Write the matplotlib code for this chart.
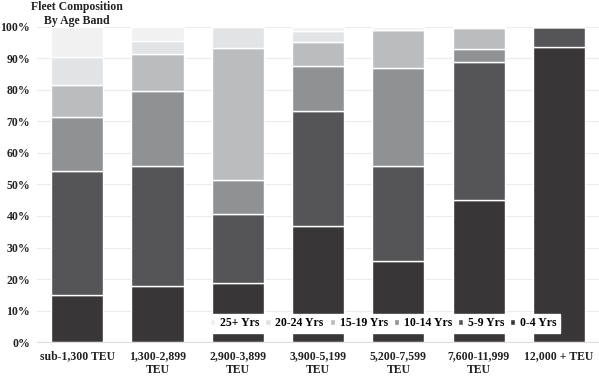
import numpy as np
import matplotlib.pyplot as plt
from matplotlib.ticker import FuncFormatter

plt.rcParams['font.family'] = ['Liberation Serif', 'DejaVu Serif']
plt.rcParams['font.weight'] = 'bold'

categories = ['sub-1,300 TEU', '1,300-2,899\nTEU', '2,900-3,899\nTEU', '3,900-5,199\nTEU',
              '5,200-7,599\nTEU', '7,600-11,999\nTEU', '12,000 + TEU']

# share of fleet (%) per age band
age_0_4 = [15.0, 17.8, 18.6, 36.8, 25.8, 45.1, 93.7]
age_5_9 = [39.2, 38.2, 22.1, 36.6, 29.9, 43.6, 6.3]
age_10_14 = [17.3, 23.6, 10.7, 14.2, 31.1, 4.2, 0.0]
age_15_19 = [9.9, 11.6, 41.8, 7.5, 12.0, 6.7, 0.0]
age_20_24 = [9.0, 4.4, 6.8, 3.5, 0.0, 0.4, 0.0]
age_25_plus = [9.6, 4.4, 0.0, 1.4, 1.2, 0.0, 0.0]

bands = ['0-4 Yrs', '5-9 Yrs', '10-14 Yrs', '15-19 Yrs', '20-24 Yrs', '25+ Yrs']
series = [age_0_4, age_5_9, age_10_14, age_15_19, age_20_24, age_25_plus]
colors = ['#383637', '#555557', '#909193', '#bbbcbe', '#e2e3e5', '#f1f1f1']

fig = plt.figure(figsize=(5.99, 3.76), dpi=100)
ax = fig.add_axes([0.062, 0.09, 0.938, 0.839])

x = np.arange(len(categories))
bottom = np.zeros(len(categories))
handles = {}
for name, vals, col in zip(bands, series, colors):
    vals = np.array(vals)
    b = ax.bar(x, vals, 0.65, bottom=bottom, color=col, edgecolor='white',
               linewidth=1.0, label=name, zorder=2)
    handles[name] = b
    bottom += vals

ax.set_xlim(-0.5, 6.5)
ax.set_ylim(0, 100)
ax.set_yticks(np.arange(0, 101, 10))
ax.yaxis.set_major_formatter(FuncFormatter(lambda v, p: '%d%%' % v))
ax.set_xticks(x)
ax.set_xticklabels(categories, linespacing=1.15)
ax.tick_params(axis='both', length=0, labelsize=8.5, colors='#222222')
ax.tick_params(axis='x', pad=6)
ax.tick_params(axis='y', pad=5)
ax.grid(axis='y', color='#ececec', linewidth=0.8, zorder=0)
for s in ['top', 'right', 'left']:
    ax.spines[s].set_visible(False)
ax.spines['bottom'].set_color('#dddddd')

order = ['25+ Yrs', '20-24 Yrs', '15-19 Yrs', '10-14 Yrs', '5-9 Yrs', '0-4 Yrs']
leg = ax.legend([handles[k] for k in order], order, loc='lower right',
                bbox_to_anchor=(0.931, 0.03), ncol=6, frameon=True,
                fancybox=False, edgecolor='white', framealpha=1.0,
                fontsize=8.5, handlelength=0.45, handleheight=0.45,
                handletextpad=0.4, columnspacing=0.5, borderpad=0.3,
                borderaxespad=0)
leg.set_zorder(5)

fig.text(0.129, 0.997, 'Fleet Composition\nBy Age Band', ha='center', va='top',
         fontsize=8.5, fontweight='bold', color='#222222', linespacing=1.25)

fig.savefig('out.png', dpi=100)
